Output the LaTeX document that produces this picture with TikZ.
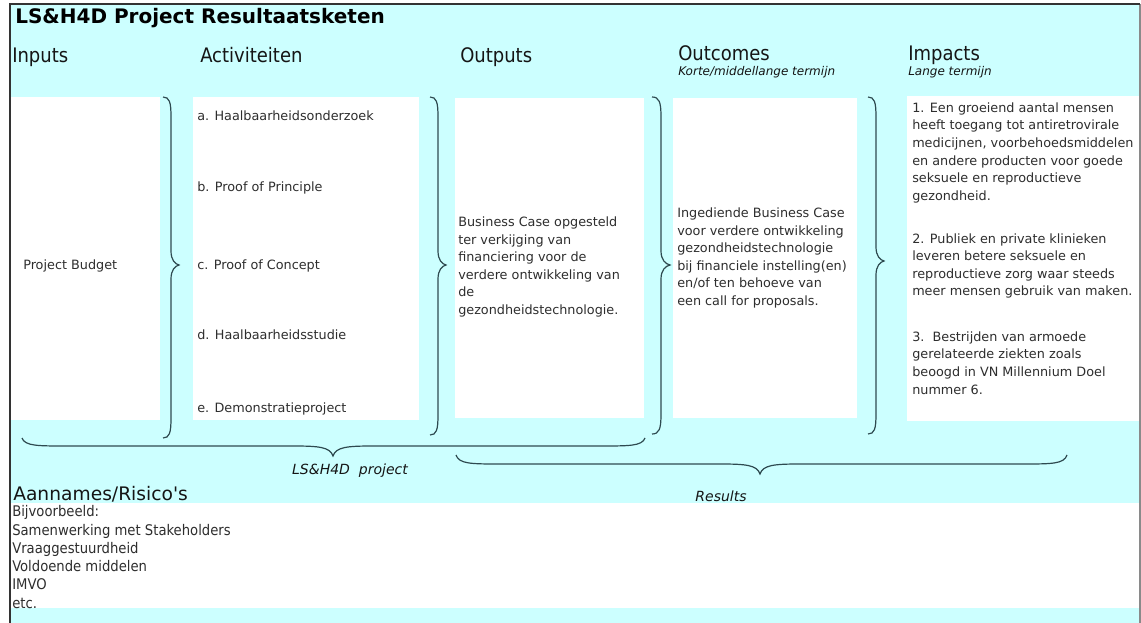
\documentclass[tikz,border=0pt]{standalone}
\usepackage{fontspec}
\setmainfont{DejaVu Sans}[ItalicFont={DejaVu Sans Oblique},BoldFont={DejaVu Sans Bold}]
\newfontfamily\condf{DejaVu Sans Condensed}
\definecolor{bgcyan}{HTML}{CCFFFF}
\definecolor{txt}{HTML}{2E2E2E}
\definecolor{hdr}{HTML}{151515}
\definecolor{brc}{HTML}{2E4A50}
\definecolor{framedark}{HTML}{333333}
\definecolor{framegray}{HTML}{8A8A8A}
\newcommand\vbr[5]{% x0, ytop, ybot, ytip, width
  \draw[bracestyle] (#1,#2) .. controls ({#1+0.4*#5},#2) and ({#1+0.5*#5},{#2+5}) .. ({#1+0.5*#5},{#2+20})
    -- ({#1+0.5*#5},{#4-14}) .. controls ({#1+0.5*#5},{#4-5}) and ({#1+0.75*#5},{#4-1}) .. ({#1+#5},#4)
    .. controls ({#1+0.75*#5},{#4+1}) and ({#1+0.5*#5},{#4+5}) .. ({#1+0.5*#5},{#4+14})
    -- ({#1+0.5*#5},{#3-20}) .. controls ({#1+0.5*#5},{#3-5}) and ({#1+0.4*#5},#3) .. (#1,#3);}
\newcommand\hbr[6]{% xleft, xright, yend, yline, xtip, ytip
  \draw[bracestyle] (#1,#3) .. controls ({#1+3},#4) and ({#1+15},#4) .. ({#1+45},#4)
    -- ({#5-40},#4) .. controls ({#5-14},#4) and ({#5-3},{#4+1}) .. (#5,#6)
    .. controls ({#5+3},{#4+1}) and ({#5+14},#4) .. ({#5+40},#4)
    -- ({#2-45},#4) .. controls ({#2-15},#4) and ({#2-3},#4) .. (#2,#3);}
\begin{document}
\begin{tikzpicture}[x=0.75pt,y=-0.75pt,
  panel/.style={fill=white},
  bracestyle/.style={draw=brc,line width=0.9pt},
  titletxt/.style={font=\bfseries\fontsize{15}{18}\selectfont,text=black,inner sep=0,anchor=base west},
  head/.style={font=\condf\fontsize{15}{18}\selectfont,text=hdr,inner sep=0,anchor=base west},
  bighead/.style={font=\fontsize{14}{18}\selectfont,text=hdr,inner sep=0,anchor=base west},
  subtxt/.style={font=\itshape\fontsize{9}{11}\selectfont,text=hdr,inner sep=0,anchor=base west},
  item/.style={font=\fontsize{9.6}{13.2}\selectfont,text=txt,inner sep=0,anchor=base west},
  block/.style={font=\fontsize{9.6}{13.2}\selectfont,text=txt,inner sep=0,anchor=west,align=left},
  listtxt/.style={font=\condf\fontsize{11}{13.7}\selectfont,text=txt,inner sep=0,anchor=west,align=left},
  lbl/.style={font=\itshape\fontsize{10.5}{12}\selectfont,text=hdr,inner sep=0}]
\useasboundingbox (0,0) rectangle (1141,623);
\fill[white] (0,0) rectangle (1141,623);
\fill[bgcyan] (10,4) rectangle (1140,623);
% white panels
\path[panel] (11,97) rectangle (160,420);
\path[panel] (193,97) rectangle (419,420);
\path[panel] (455,98) rectangle (644,418);
\path[panel] (673,98) rectangle (857,418);
\path[panel] (907,96) rectangle (1139,421);
\path[panel] (11,503) rectangle (1139,608);
% frame
\draw[framegray,line width=1pt] (1140,4) -- (1140,623);
\draw[framedark,line width=1.4pt] (10,623) -- (10,4) -- (1140,4);
% title and headers
\node[titletxt] (title) at (15,24) {LS\&H4D Project Resultaatsketen};
\node[head] (hin) at (12,63) {Inputs};
\node[head] (hact) at (200,63) {Activiteiten};
\node[head] (hout) at (460,63) {Outputs};
\node[head] (houtc) at (678,61) {Outcomes};
\node[subtxt] (soutc) at (678,76) {Korte/middellange termijn};
\node[head] (himp) at (908,61) {Impacts};
\node[subtxt] (simp) at (908,76) {Lange termijn};
% inputs
\node[item] (budget) at (23,269.5) {Project Budget};
% activities
\node[item] (acta) at (197,120.5) {a. Haalbaarheidsonderzoek};
\node[item] (actb) at (197,191.5) {b. Proof of Principle};
\node[item] (actc) at (197,269.5) {c. Proof of Concept};
\node[item] (actd) at (197,339.5) {d. Haalbaarheidsstudie};
\node[item] (acte) at (197,412.5) {e. Demonstratieproject};
% outputs
\node[block] (outp) at (458,267) {Business Case opgesteld\\ter verkijging van\\financiering voor de\\verdere ontwikkeling van\\de\\gezondheidstechnologie.};
% outcomes
\node[block] (outc) at (677,258) {Ingediende Business Case\\voor verdere ontwikkeling\\gezondheidstechnologie\\bij financiele instelling(en)\\en/of ten behoeve van\\een call for proposals.};
% impacts
\node[block] (imp1) at (912,152.7) {1. Een groeiend aantal mensen\\heeft toegang tot antiretrovirale\\medicijnen, voorbehoedsmiddelen\\en andere producten voor goede\\seksuele en reproductieve\\gezondheid.};
\node[block] (imp2) at (912,266) {2. Publiek en private klinieken\\leveren betere seksuele en\\reproductieve zorg waar steeds\\meer mensen gebruik van maken.};
\node[block] (imp3) at (912,363) {3.\ \ Bestrijden van armoede\\gerelateerde ziekten zoals\\beoogd in VN Millennium Doel\\nummer 6.};
% vertical braces
\vbr{163}{97}{438}{265}{16}
\vbr{430}{97}{435}{265}{16}
\vbr{652}{97}{434}{265}{18}
\vbr{868}{97}{434}{261}{16}
% horizontal braces
\hbr{22}{645}{438}{446}{333}{456}
\hbr{456}{1067}{455}{464}{760}{474}
\node[lbl] (lproj) at (350,471) {LS\&H4D\ \ project};
\node[lbl] (lres) at (721,496) {Results};
% assumptions
\node[bighead] (hass) at (13,500) {Aannames/Risico\textquotesingle s};
\node[listtxt] (ass) at (12,557) {Bijvoorbeeld:\\Samenwerking met Stakeholders\\Vraaggestuurdheid\\Voldoende middelen\\IMVO\\etc.};
\end{tikzpicture}
\end{document}
